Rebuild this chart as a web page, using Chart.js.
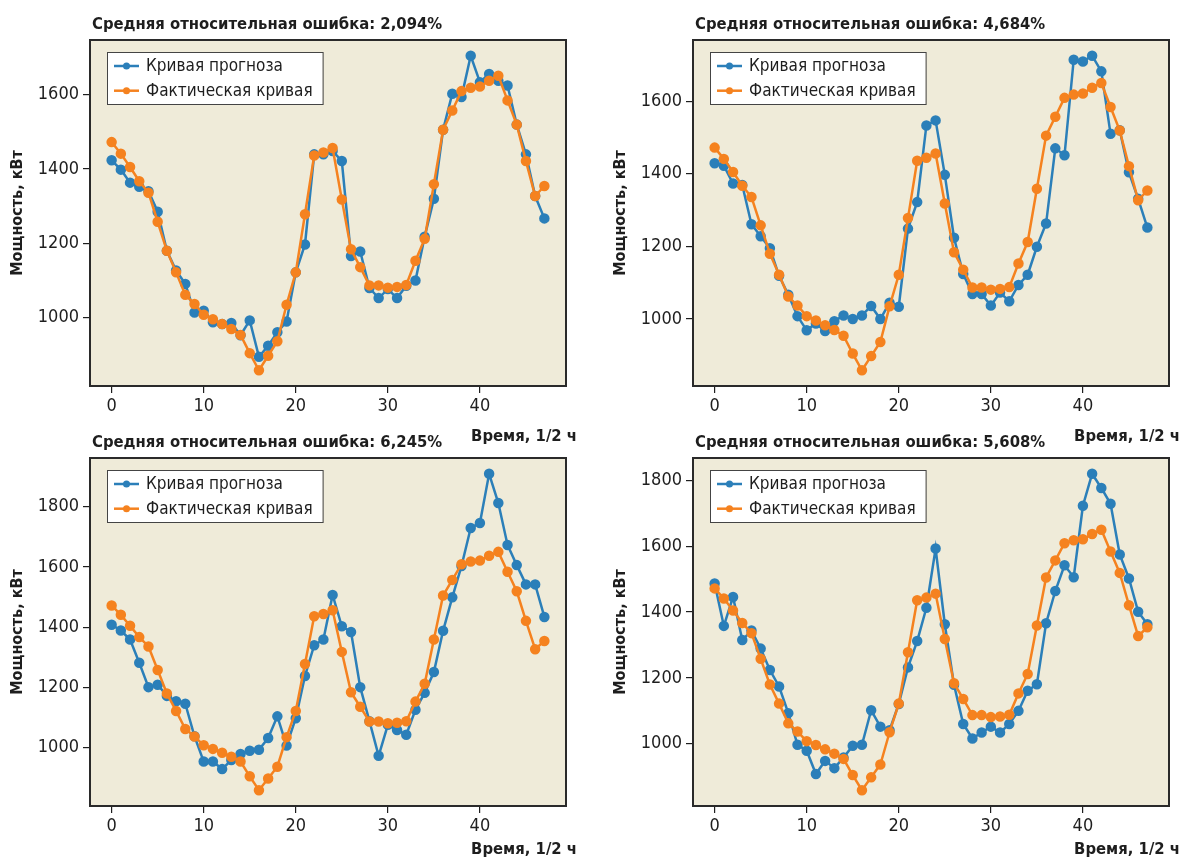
<!DOCTYPE html>
<html lang="ru">
<head>
<meta charset="utf-8">
<title>Прогноз мощности</title>
<script src="https://cdn.jsdelivr.net/npm/chart.js@4.4.1/dist/chart.umd.min.js"></script>
<style>
  body { margin: 0; background: #fff; }
  .wrap { position: relative; width: 1184px; height: 857px; overflow: hidden; }
  .wrap canvas { position: absolute; left: 0; top: 0; }
</style>
</head>
<body>
<div class="wrap">
  <canvas id="c1" width="1184" height="857"></canvas>
  <canvas id="c2" width="1184" height="857"></canvas>
  <canvas id="c3" width="1184" height="857"></canvas>
  <canvas id="c4" width="1184" height="857"></canvas>
</div>
<script>
// Данные: получасовые интервалы суток
const slots = [0, 1, 2, 3, 4, 5, 6, 7, 8, 9, 10, 11, 12, 13, 14, 15, 16, 17, 18, 19, 20, 21, 22, 23,
  24, 25, 26, 27, 28, 29, 30, 31, 32, 33, 34, 35, 36, 37, 38, 39, 40, 41, 42, 43, 44, 45, 46, 47];

// Фактическая кривая (одинаковая на всех графиках)
const actual = [1472, 1441, 1405, 1367, 1336, 1258, 1180, 1122, 1062, 1037, 1008, 996, 983, 970, 954, 905,
  859, 898, 937, 1035, 1122, 1278, 1436, 1444, 1456, 1318, 1184, 1136, 1087, 1087, 1081, 1083,
  1088, 1153, 1212, 1359, 1505, 1557, 1609, 1618, 1621, 1637, 1650, 1584, 1519, 1421, 1327, 1354];

// Кривые прогноза для четырёх моделей
const forecast1 = [1423, 1398, 1363, 1352, 1340, 1285, 1180, 1127, 1091, 1014, 1019, 988, 983, 986, 953, 993,
  895, 925, 961, 990, 1122, 1197, 1439, 1439, 1448, 1421, 1166, 1178, 1080, 1053, 1077, 1053,
  1086, 1100, 1218, 1320, 1505, 1602, 1593, 1704, 1633, 1655, 1637, 1624, 1519, 1439, 1327, 1267];
const forecast2 = [1429, 1422, 1373, 1369, 1261, 1228, 1195, 1119, 1067, 1008, 969, 988, 967, 994, 1010, 1000,
  1010, 1036, 1000, 1045, 1034, 1249, 1322, 1533, 1547, 1397, 1224, 1124, 1069, 1069, 1037, 1073,
  1049, 1094, 1122, 1199, 1263, 1470, 1451, 1714, 1709, 1725, 1682, 1510, 1520, 1404, 1331, 1252];
const forecast3 = [1408, 1389, 1359, 1282, 1201, 1209, 1172, 1154, 1146, 1038, 954, 954, 929, 959, 979, 990,
  993, 1032, 1104, 1007, 1098, 1238, 1340, 1359, 1507, 1403, 1384, 1201, 1088, 973, 1076, 1059,
  1043, 1126, 1182, 1251, 1388, 1499, 1603, 1729, 1746, 1909, 1812, 1673, 1606, 1542, 1542, 1434];
const forecast4 = [1487, 1358, 1446, 1315, 1344, 1289, 1224, 1174, 1093, 997, 979, 908, 948, 926, 958, 994,
  997, 1102, 1052, 1041, 1121, 1232, 1312, 1413, 1593, 1363, 1179, 1060, 1016, 1034, 1052, 1034,
  1060, 1100, 1161, 1181, 1366, 1464, 1542, 1506, 1723, 1820, 1777, 1729, 1575, 1502, 1401, 1363];

const errors = ['2,094%', '4,684%', '6,245%', '5,608%'];
const xTicks = [0, 10, 20, 30, 40];
const yTicksTop = [1000, 1200, 1400, 1600];
const yTicksBottom = [1000, 1200, 1400, 1600, 1800];

const FONT = '"Liberation Sans Narrow", "DejaVu Sans Condensed", "Roboto Condensed", Roboto, sans-serif';
const INK = '#1e1e1e';

// Фон области графика, рамка, заголовок, подпись оси X и легенда
const panelDecor = {
  id: 'panelDecor',
  beforeDraw(chart) {
    const { ctx, chartArea: a } = chart;
    ctx.save();
    ctx.fillStyle = '#efebd9';
    ctx.fillRect(a.left, a.top, a.right - a.left, a.bottom - a.top);
    ctx.restore();
  },
  afterDraw(chart, args, opts) {
    const { ctx, chartArea: a } = chart;
    ctx.save();
    ctx.strokeStyle = '#2a2a2a';
    ctx.lineWidth = 2;
    ctx.strokeRect(a.left, a.top, a.right - a.left, a.bottom - a.top);

    ctx.fillStyle = INK;
    ctx.font = 'bold 16.5px ' + FONT;
    ctx.textAlign = 'left';
    ctx.textBaseline = 'alphabetic';
    ctx.fillText(opts.title, a.left + 2, a.top - 11);
    ctx.textAlign = 'right';
    ctx.fillText(opts.xLabel, a.right + 11, Math.min(a.bottom + 55, chart.height - 3));

    // легенда
    ctx.font = '17px ' + FONT;
    const sets = chart.data.datasets;
    const textW = Math.max(...sets.map(d => ctx.measureText(d.label).width));
    const lx = a.left + 17, ly = a.top + 12;
    const w = 39 + textW + 10, h = 52;
    ctx.fillStyle = '#fff';
    ctx.fillRect(lx, ly, w, h);
    ctx.strokeStyle = '#444';
    ctx.lineWidth = 1;
    ctx.strokeRect(lx + 0.5, ly + 0.5, w, h);
    sets.forEach((d, i) => {
      const ry = ly + 14 + i * 24.7;
      ctx.strokeStyle = d.borderColor;
      ctx.lineWidth = 2.5;
      ctx.beginPath();
      ctx.moveTo(lx + 7, ry);
      ctx.lineTo(lx + 32, ry);
      ctx.stroke();
      ctx.fillStyle = d.borderColor;
      ctx.beginPath();
      ctx.arc(lx + 19.5, ry, 3.5, 0, Math.PI * 2);
      ctx.fill();
      ctx.fillStyle = INK;
      ctx.textAlign = 'left';
      ctx.textBaseline = 'middle';
      ctx.fillText(d.label, lx + 39, ry + 1);
    });
    ctx.restore();
  }
};

function makePanel(canvasId, forecast, error, yTicks, plot) {
  const all = forecast.concat(actual);
  const lo = Math.min(...all), hi = Math.max(...all);
  const pad = (hi - lo) * 0.05;
  const tickFont = { family: FONT, size: 18 };

  return new Chart(document.getElementById(canvasId), {
    type: 'line',
    data: {
      datasets: [{
        label: 'Кривая прогноза',
        data: slots.map((x, i) => ({ x: x, y: forecast[i] })),
        borderColor: '#2b7fb9',
        backgroundColor: '#2b7fb9',
        borderWidth: 2.5,
        pointRadius: 4,
        pointHoverRadius: 4,
        order: 1
      }, {
        label: 'Фактическая кривая',
        data: slots.map((x, i) => ({ x: x, y: actual[i] })),
        borderColor: '#f5821f',
        backgroundColor: '#f5821f',
        borderWidth: 2.5,
        pointRadius: 4,
        pointHoverRadius: 4,
        order: 0
      }]
    },
    options: {
      responsive: false,
      animation: false,
      layout: {
        padding: { left: plot.left - 90, top: plot.top, right: 1184 - plot.right, bottom: 857 - plot.bottom - 40 }
      },
      plugins: {
        legend: { display: false },
        tooltip: { enabled: false },
        panelDecor: { title: 'Средняя относительная ошибка: ' + error, xLabel: 'Время, 1/2 ч' }
      },
      scales: {
        x: {
          type: 'linear',
          min: -2.35,
          max: 49.35,
          afterBuildTicks: s => { s.ticks = xTicks.map(v => ({ value: v })); },
          afterFit: s => { s.height = 40; },
          grid: { drawOnChartArea: false, drawTicks: true, tickLength: 7, color: INK, lineWidth: 1.2 },
          border: { display: false },
          ticks: { font: tickFont, color: INK, padding: 3, maxRotation: 0, callback: v => String(v) }
        },
        y: {
          min: lo - pad,
          max: hi + pad,
          afterBuildTicks: s => { s.ticks = yTicks.map(v => ({ value: v })); },
          afterFit: s => { s.width = 90; },
          grid: { drawOnChartArea: false, drawTicks: true, tickLength: 7, color: INK, lineWidth: 1.2 },
          border: { display: false },
          ticks: { font: tickFont, color: INK, padding: 4, callback: v => String(v) },
          title: {
            display: true,
            text: 'Мощность, кВт',
            color: INK,
            font: { family: FONT, size: 16, weight: 'bold' },
            padding: { top: 8, bottom: 0 }
          }
        }
      }
    },
    plugins: [panelDecor]
  });
}

makePanel('c1', forecast1, errors[0], yTicksTop, { left: 90, top: 40, right: 566, bottom: 386 });
makePanel('c2', forecast2, errors[1], yTicksTop, { left: 693, top: 40, right: 1169, bottom: 386 });
makePanel('c3', forecast3, errors[2], yTicksBottom, { left: 90, top: 458, right: 566, bottom: 806 });
makePanel('c4', forecast4, errors[3], yTicksBottom, { left: 693, top: 458, right: 1169, bottom: 806 });
</script>
</body>
</html>
